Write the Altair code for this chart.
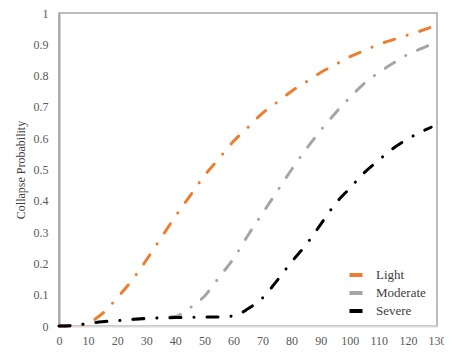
import altair as alt
import pandas as pd

x_vals = [0, 5, 10, 15, 20, 25, 30, 35, 40, 45, 50, 55, 60, 65, 70, 75, 80, 85, 90, 95, 100, 105, 110, 115, 120, 125, 128]
light = [0, 0.001, 0.01, 0.04, 0.09, 0.145, 0.21, 0.28, 0.35, 0.415, 0.48, 0.535, 0.59, 0.635, 0.68, 0.715, 0.75, 0.78, 0.81, 0.835, 0.86, 0.88, 0.9, 0.915, 0.93, 0.945, 0.955]
moderate = [0, 0.002, 0.008, 0.013, 0.017, 0.02, 0.023, 0.027, 0.03, 0.058, 0.095, 0.155, 0.215, 0.29, 0.36, 0.43, 0.5, 0.565, 0.625, 0.68, 0.73, 0.775, 0.81, 0.84, 0.868, 0.888, 0.9]
severe = [0, 0.002, 0.008, 0.014, 0.017, 0.021, 0.024, 0.026, 0.027, 0.028, 0.029, 0.029, 0.032, 0.055, 0.09, 0.145, 0.205, 0.26, 0.325, 0.39, 0.44, 0.49, 0.53, 0.568, 0.598, 0.622, 0.635]

series_names = ["Light", "Moderate", "Severe"]
series_colors = ["#ED7D31", "#A5A5A5", "#000000"]
x_ticks = list(range(0, 131, 10))
y_ticks = [round(i * 0.1, 1) for i in range(11)]
title_text = "(e) 8-story frame under light vehicle collision"

rows = []
for name, vals in zip(series_names, [light, moderate, severe]):
    for xv, yv in zip(x_vals, vals):
        rows.append({"x": xv, "p": yv, "level": name})
df = pd.DataFrame(rows)

font = "Liberation Serif, Times New Roman, serif"

chart = alt.Chart(df).mark_line(
    strokeWidth=3, strokeDash=[11, 13, 0.1, 13], strokeCap="round", interpolate="monotone"
).encode(
    x=alt.X("x:Q", scale=alt.Scale(domain=[0, 130], nice=False),
            axis=alt.Axis(values=x_ticks, title=None, grid=False, ticks=False,
                          labelFont=font, labelFontSize=12, labelColor="#595959",
                          labelPadding=9, domainColor="#D9D9D9", domainWidth=2,
                          labelFlush=False)),
    y=alt.Y("p:Q", scale=alt.Scale(domain=[0, 1], nice=False),
            axis=alt.Axis(values=y_ticks, title="Collapse Probability", grid=False, ticks=False,
                          labelFont=font, labelFontSize=12, labelColor="#595959",
                          titleFont=font, titleFontSize=12, titleFontWeight="normal",
                          titleColor="#404040",
                          format="~g", labelPadding=11, domainColor="#A6A6A6", domainWidth=2,
                          titlePadding=6, labelFlush=False)),
    color=alt.Color("level:N", scale=alt.Scale(domain=series_names, range=series_colors),
                    legend=alt.Legend(title=None, orient="none", legendX=288, legendY=253,
                                      labelFont=font, labelFontSize=13, labelColor="#404040",
                                      symbolType="stroke", symbolStrokeWidth=4, symbolSize=170,
                                      symbolDash=[], rowPadding=1, labelOffset=11)),
).properties(
    width=378, height=313,
    title=alt.TitleParams(title_text, anchor="middle", dx=-19, offset=6, fontSize=19,
                          font=font, fontWeight="bold", color="#000000"),
    autosize=alt.AutoSizeParams(type="none"),
    padding={"left": 51, "top": 5, "right": 7, "bottom": 26},
).configure_view(
    stroke="#A6A6A6", strokeWidth=1.5
)

chart.save("out.html", embed_options={"renderer": "svg", "actions": False})
